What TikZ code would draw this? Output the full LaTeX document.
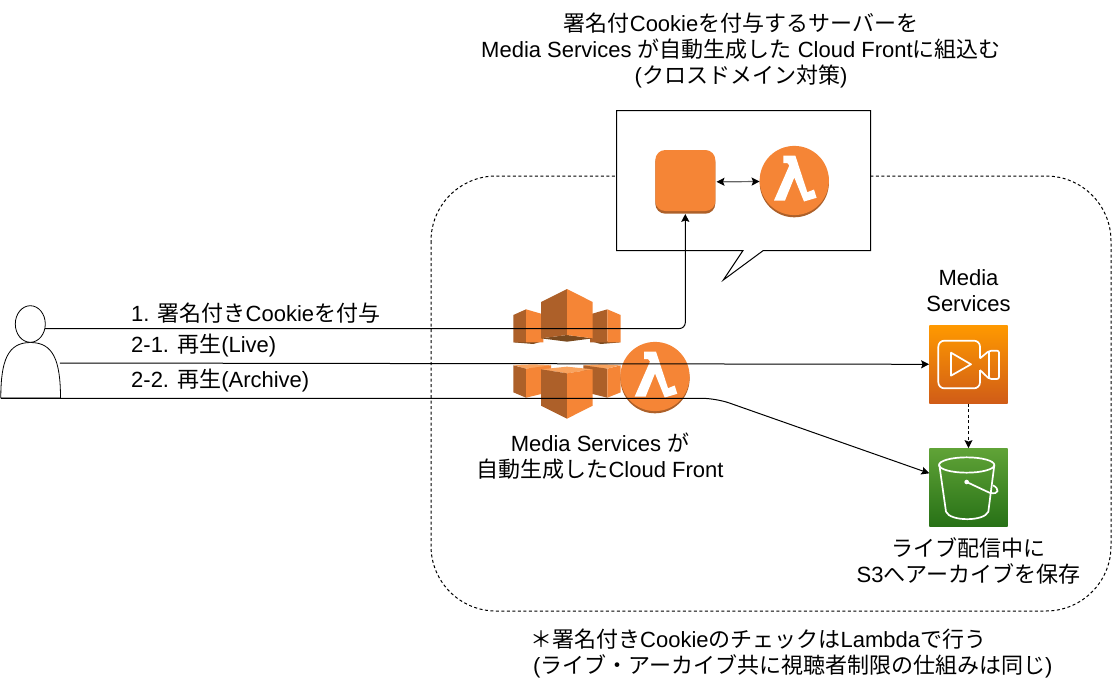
\documentclass[tikz,border=0pt]{standalone}
\usepackage{fontspec}
\setmainfont{Liberation Sans}
\newfontfamily\cjkfont{Noto Sans CJK JP}
\newcommand{\jp}[1]{{\cjkfont #1}}
\usetikzlibrary{arrows.meta,shapes.geometric}
\definecolor{awsorange}{HTML}{F58536}
\definecolor{awsdark}{HTML}{AD6029}
\definecolor{awslight}{HTML}{F9A35E}
\definecolor{awsunder}{HTML}{7A4A1F}
\definecolor{msT}{RGB}{255,153,0}
\definecolor{msB}{RGB}{208,92,23}
\definecolor{s3T}{RGB}{96,163,55}
\definecolor{s3B}{RGB}{39,113,22}
\tikzset{
  x=1pt,y=-1pt,
  label text/.style={inner sep=0pt,font=\fontsize{22}{26}\selectfont,align=center,text=black},
  left text/.style={label text,anchor=west,align=left},
  conn/.style={draw=black,line width=1pt,rounded corners=6pt},
  tip/.style={-{Stealth[length=8pt,width=8pt,inset=1.5pt]}},
  tips/.style={{Stealth[length=8pt,width=8pt,inset=1.5pt,color=black]}-{Stealth[length=8pt,width=8pt,inset=1.5pt,color=black]}},
  zoomA/.style={x=0.33333pt,y=-0.33333pt,shift={(490pt,-280pt)}},
  zoomB/.style={x=0.33333pt,y=-0.33333pt,shift={(900pt,-310pt)}},
  ghost/.style={circle,inner sep=0pt,minimum size=69pt},
  lambdaicon/.pic={
    \fill[awsdark] (0,2.2) circle[radius=34.6pt];
    \fill[awsorange] (0,0) circle[radius=34.6pt];
    \fill[white] (-11,-25)--(1,-25)--(13,11.7)--(19.7,9)--(22.3,17.3)--(9.7,21)--(0,-3)--(-9.3,20)--(-20.3,20)--(-5,-15)--(-7,-17.5)--(-11,-17.5)--cycle;
  }
}
\begin{document}
\begin{tikzpicture}
\useasboundingbox (0,0) rectangle (1112,686);
\fill[white] (0,0) rectangle (1112,686);

% dashed region
\draw[black,line width=1pt,dash pattern=on 3pt off 2.5pt,rounded corners=65pt] (431,176) rectangle (1111,611);

% callout
\draw[black,fill=white,line width=1pt,line join=miter] (616.5,110.5)--(870.5,110.5)--(870.5,250.5)--(763.3,250.5)--(723.3,280)--(743,250.5)--(616.5,250.5)--cycle;

% orange instance
\draw[draw=none,fill=awsdark,rounded corners=10pt] (655.3,152) rectangle (715.3,213.7);
\draw[draw=none,fill=awsorange,rounded corners=10pt] (655.3,150) rectangle (715.3,211);
\node[inner sep=0pt,minimum width=60pt,minimum height=63.7pt] (instance) at (685.3,181.85) {};

% lambda in callout
\pic at (794.3,180.5) {lambdaicon};
\node[ghost] (lambdaA) at (794.3,181.5) {};

% cloudfront upper half
\begin{scope}[zoomA]
  \fill[awsunder] (70,187)--(130,192)--(153,185)--(153,180)--cycle;
  \fill[awsunder] (392,187)--(332,192)--(308,185)--(308,180)--cycle;
  \fill[awsdark] (70,105)--(108,88)--(108,187)--(70,187)--cycle;
  \fill[awsorange] (108,88)--(160,103)--(160,187)--(108,187)--cycle;
  \fill[awsdark] (300,103)--(352,88)--(352,187)--(300,187)--cycle;
  \fill[awsorange] (352,88)--(392,105)--(392,187)--(352,187)--cycle;
  \fill[awsunder] (153,175)--(231,165)--(308,175)--(231,185)--cycle;
  \fill[awsdark] (153,66)--(231,27)--(231,165)--(153,175)--cycle;
  \fill[awsorange] (231,27)--(308,66)--(308,175)--(231,165)--cycle;
  % lower half
  \fill[awslight] (70,255)--(130,253)--(183,255)--(153,266)--(108,266)--cycle;
  \fill[awsdark] (70,256)--(108,266)--(108,353)--(70,337)--cycle;
  \fill[awsorange] (108,266)--(183,256)--(183,335)--(108,353)--cycle;
  \fill[awslight] (280,255)--(340,253)--(392,255)--(352,266)--(308,266)--cycle;
  \fill[awsdark] (280,256)--(352,266)--(352,353)--(280,335)--cycle;
  \fill[awsorange] (352,266)--(392,256)--(392,337)--(352,353)--cycle;
  \fill[awslight] (153,268)--(231,260)--(308,268)--(231,280)--cycle;
  \fill[awsdark] (153,268)--(231,280)--(231,416)--(153,377)--cycle;
  \fill[awsorange] (231,280)--(308,268)--(308,377)--(231,416)--cycle;
\end{scope}
\pic at (655,376.5) {lambdaicon};

% media services
\node[inner sep=0pt,minimum size=78.4pt,shade,top color=msT,bottom color=msB] (media) at (968.5,364.3) {};
\begin{scope}[zoomB,draw=white,line width=1.7pt,line join=round]
  \draw[rounded corners=6pt] (240,145)--(240,92)--(115,92)--(115,235)--(240,235)--(240,180);
  \draw (153,128)--(213,163)--(153,197)--cycle;
  \draw[rounded corners=2pt] (240,145)--(268,122)--(297,122)--(297,207)--(268,207)--(240,180);
  \draw (268,122)--(268,207);
\end{scope}

% s3 bucket
\node[inner sep=0pt,minimum size=78.4pt,shade,top color=s3T,bottom color=s3B] (s3) at (968.5,487.5) {};
\begin{scope}[zoomB,draw=white,line width=1.7pt,line join=round]
  \draw (200,465) ellipse[x radius=83,y radius=23];
  \draw (118,465)--(138,605) .. controls (150,635) and (253,635) .. (265,605)--(283,465);
  \draw (200,516)--(268,548) .. controls (300,556) and (298,535) .. (279,526);
  \fill[white] (200,516) circle[radius=2.3pt];
\end{scope}

% person
\draw[black,fill=white,line width=0.8pt] (0.8,398) .. controls (0.8,360) and (8,342.5) .. (30.5,342.5) .. controls (53,342.5) and (60.5,360) .. (60.5,398)--cycle;
\node[ellipse,draw=black,fill=white,line width=0.8pt,inner sep=0pt,minimum width=30pt,minimum height=36.6pt] (head) at (30.3,324) {};
\coordinate (bodyR) at (59.8,363);
\coordinate (bodyB) at (1,398.3);

% connectors
\coordinate (bend1) at (head.-17 -| instance.south);
\coordinate (bend2) at (716,398.3);
\coordinate (s3in) at (929.3,473.3);
\draw[conn,tip] (head.-17)--(bend1)--(instance.south);
\draw[conn,tip] (bodyR)--(media.west);
\draw[conn,tip,rounded corners=14pt] (bodyB)--(bend2)--(s3in);
\draw[conn,tips,line width=1.2pt,draw=black!60] (instance.east)++(1pt,0)--(lambdaA.west);
\draw[conn,tip,dash pattern=on 3pt off 2.5pt,line width=1pt] (media.south)--(s3.north);

% labels
\node[label text] (title) at (741,50.5) {\jp{署名付}Cookie\jp{を付与するサーバーを}\\Media Services \jp{が自動生成した} Cloud Front\jp{に組込む}\\(\jp{クロスドメイン対策})};
\node[left text] (l1) at (131,313) {1. \jp{署名付き}Cookie\jp{を付与}};
\node[left text] (l2) at (131,346) {2-1. \jp{再生}(Live)};
\node[left text] (l3) at (131,381) {2-2. \jp{再生}(Archive)};
\node[label text] (cf) at (600,456) {Media Services \jp{が}\\\jp{自動生成した}Cloud Front};
\node[label text] (ms) at (968.5,291) {Media\\Services};
\node[label text] (s3t) at (968.5,561) {\jp{ライブ配信中に}\\S3\jp{へアーカイブを保存}};
\node[left text] (n1) at (530,639) {\jp{＊署名付き}Cookie\jp{のチェックは}Lambda\jp{で行う}};
\node[left text] (n2) at (533,666) {(\jp{ライブ・アーカイブ共に視聴者制限の仕組みは同じ})};
\end{tikzpicture}
\end{document}
